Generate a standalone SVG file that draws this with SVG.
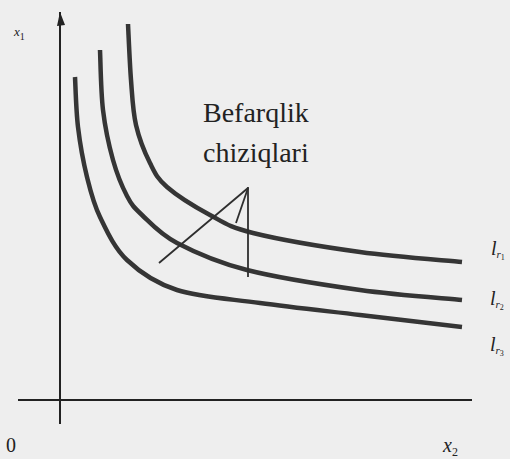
<svg xmlns="http://www.w3.org/2000/svg" width="510" height="459" viewBox="0 0 510 459">
<style>
.curve{fill:none;stroke:#353535;stroke-width:4.5;stroke-linecap:butt}
.axis{fill:none;stroke:#222;stroke-width:2}
.ptr{fill:none;stroke:#2e2e2e;stroke-width:1.8}
.big{font-family:"Liberation Serif",serif;font-size:28px;fill:#222}
.lab{font-family:"Liberation Serif",serif;font-style:italic;fill:#222}
</style>
<rect width="510" height="459" fill="#eeeeee"/>
<g id="axes">
<line class="axis" x1="60" y1="12" x2="60" y2="424"/>
<polygon points="57,26 60,12 65,25" fill="#222"/>
<line class="axis" x1="18" y1="400" x2="472" y2="400"/>
</g>
<g id="curve-r3">
<path class="curve" d="M75,77 C75.5,85.3 76,110.3 78,127 C80,143.7 83.3,162 87,177 C90.7,192 93.3,203.2 100,217 C106.7,230.8 114.2,247.8 127,260 C139.8,272.2 154.8,282.8 177,290 C199.2,297.2 229.5,298.8 260,303 C290.5,307.2 326.3,311 360,315 C393.7,319 445,325 462,327"/>
</g>
<g id="curve-r2">
<path class="curve" d="M100,50 C100.5,60 100.8,91.7 103,110 C105.2,128.3 109,145.7 113,160 C117,174.3 122.2,186.8 127,196 C131.8,205.2 133.7,207.2 142,215 C150.3,222.8 159.5,233.8 177,243 C194.5,252.2 216.5,262.2 247,270 C277.5,277.8 324.5,285 360,290 C395.5,295 445,298.3 462,300"/>
</g>
<g id="curve-r1">
<path class="curve" d="M128,24 C128.5,33.3 129.7,63.2 131,80 C132.3,96.8 132.8,111.2 136,125 C139.2,138.8 144.8,152.7 150,163 C155.2,173.3 157,178.3 167,187 C177,195.7 195.7,207.3 210,215 C224.3,222.7 228,226.8 253,233 C278,239.2 325.2,247.2 360,252 C394.8,256.8 445,260.3 462,262"/>
</g>
<g id="connectors">
<line class="ptr" x1="248" y1="188" x2="159" y2="263"/>
<line class="ptr" x1="248" y1="188" x2="236" y2="223"/>
<line class="ptr" x1="248" y1="187" x2="248" y2="277"/>
</g>
<g id="title">
<text class="big" x="203" y="122">Befarqlik</text>
<text class="big" x="203" y="162">chiziqlari</text>
</g>
<g id="labels">
<text class="lab" x="14" y="36" font-size="13">x<tspan font-style="normal" font-size="10" dy="4">1</tspan></text>
<text x="6" y="452" font-family="Liberation Serif,serif" font-size="20" fill="#222">0</text>
<text class="lab" x="443" y="452" font-size="20">x<tspan font-style="normal" font-size="12" dy="4">2</tspan></text>
<text class="lab" x="491" y="255" font-size="20">l<tspan font-size="11" dy="3">r</tspan><tspan font-style="normal" font-size="8" dy="2">1</tspan></text>
<text class="lab" x="490" y="305" font-size="20">l<tspan font-size="11" dy="3">r</tspan><tspan font-style="normal" font-size="8" dy="2">2</tspan></text>
<text class="lab" x="490" y="351" font-size="20">l<tspan font-size="11" dy="3">r</tspan><tspan font-style="normal" font-size="8" dy="2">3</tspan></text>
</g>
</svg>
